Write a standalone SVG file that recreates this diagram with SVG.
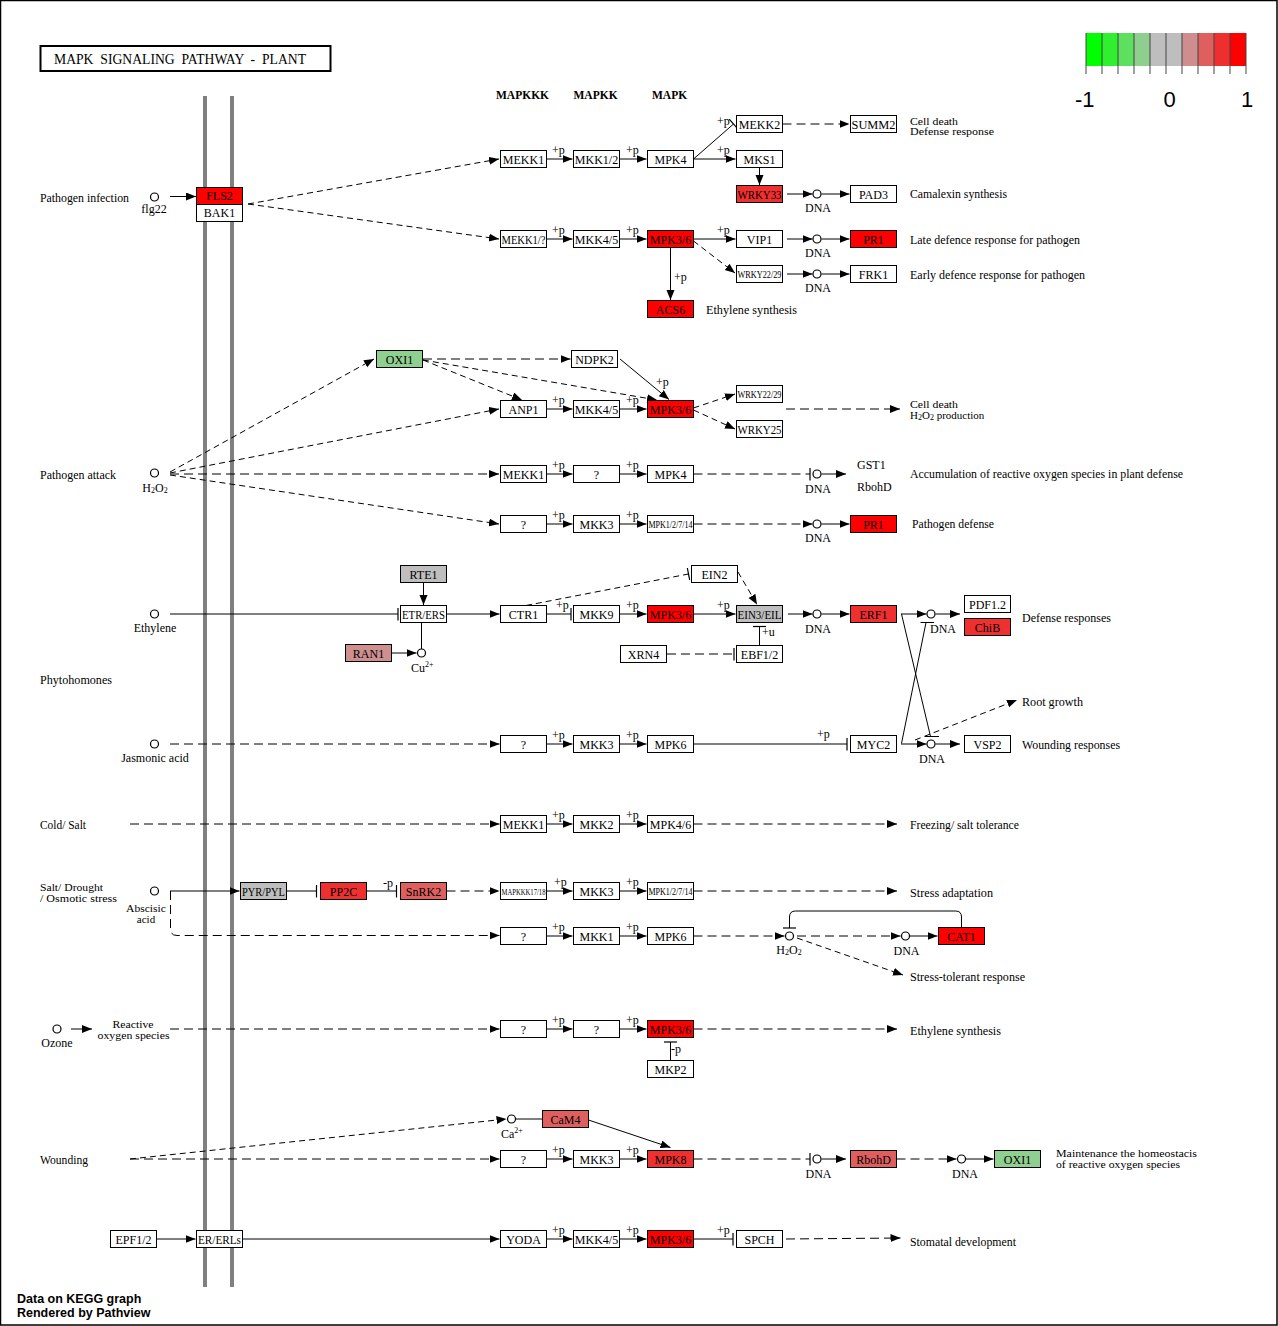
<svg xmlns="http://www.w3.org/2000/svg" width="1278" height="1326" viewBox="0 0 1278 1326">
<defs>
<style>
.t{font-family:"Liberation Serif","Times New Roman",serif;font-size:12px;fill:#000}
.s{font-size:11px}
.n{font-size:10px}
.m{text-anchor:middle}
.hb{font-family:"Liberation Serif","Times New Roman",serif;font-size:11.5px;font-weight:bold;fill:#000}
.bx{fill:#fff;stroke:#000;stroke-width:1}
.r{fill:#FF0000}.r2{fill:#EF3030}.r3{fill:#DF5F5F}.r4{fill:#CE8F8F}.g{fill:#BEBEBE}.gr{fill:#8FCF8F}
.c{fill:#fff;stroke:#000;stroke-width:1.2}
.l{stroke:#000;stroke-width:1;fill:none}
.d{stroke-dasharray:9 5}
.d2{stroke-dasharray:6 4}
.ar{marker-end:url(#a)}
.ib{marker-end:url(#i)}
.sub{font-size:8px}
.lg{font-family:"Liberation Sans",Arial,sans-serif;font-size:22px;fill:#000}
.ft{font-family:"Liberation Sans",Arial,sans-serif;font-size:12.5px;font-weight:bold;fill:#000}
</style>
<marker id="a" markerUnits="userSpaceOnUse" markerWidth="11" markerHeight="9" refX="10" refY="4" orient="auto"><path d="M0,0 L10,4 L0,8 z" fill="#000"/></marker>
<marker id="i" markerUnits="userSpaceOnUse" markerWidth="3" markerHeight="13" refX="1.5" refY="6.5" orient="auto"><path d="M1.5,0 L1.5,13" stroke="#000" stroke-width="1.2"/></marker>
</defs>
<rect x="0" y="0" width="1278" height="1326" fill="#fff"/>
<rect x="0.5" y="0.5" width="1276.5" height="1324.5" fill="none" stroke="#000" stroke-width="1.5"/>

<g id="title"><rect x="40.5" y="46" width="290" height="25" fill="#fff" stroke="#000" stroke-width="2"/><text class="t" x="54" y="64" style="font-size:14px;white-space:pre" xml:space="preserve" textLength="252" lengthAdjust="spacingAndGlyphs">MAPK  SIGNALING  PATHWAY  -  PLANT</text></g>

<g id="legend">
<rect x="1086" y="33" width="16" height="33" fill="#00FF00"/>
<rect x="1102" y="33" width="16" height="33" fill="#2FEF2F"/>
<rect x="1118" y="33" width="16" height="33" fill="#5FDF5F"/>
<rect x="1134" y="33" width="16" height="33" fill="#8ECE8E"/>
<rect x="1150" y="33" width="16" height="33" fill="#BEBEBE"/>
<rect x="1166" y="33" width="16" height="33" fill="#BEBEBE"/>
<rect x="1182" y="33" width="16" height="33" fill="#CE8E8E"/>
<rect x="1198" y="33" width="16" height="33" fill="#DF5F5F"/>
<rect x="1214" y="33" width="16" height="33" fill="#EF2F2F"/>
<rect x="1230" y="33" width="16" height="33" fill="#FF0000"/>
<path d="M1086,33V74M1102,33V74M1118,33V74M1134,33V74M1150,33V74M1166,33V74M1182,33V74M1198,33V74M1214,33V74M1230,33V74M1246,33V74" stroke="#444" stroke-width="1"/>
<text class="lg" x="1075" y="107">-1</text>
<text class="lg m" x="1169.5" y="107">0</text>
<text class="lg" x="1241" y="107">1</text>
</g>

<g id="membrane"><rect x="203" y="96" width="4" height="1191" fill="#808080"/><rect x="230" y="96" width="4" height="1191" fill="#808080"/></g>

<g id="headers"><text class="hb" x="496" y="99">MAPKKK</text><text class="hb" x="573.5" y="99">MAPKK</text><text class="hb" x="652" y="99">MAPK</text></g>

<g id="connectors">
<path class="l ar" d="M170,196.5 L196,196.5"/>
<path class="l d2 ar" d="M248,204 L499,159"/>
<path class="l d2 ar" d="M248,204 L499,239"/>
<path class="l ar" d="M546.5,159 L572.5,159"/>
<path class="l ar" d="M619.5,159 L646.5,159"/>
<path class="l ar" d="M693.5,159 L735.5,159"/>
<path class="l ib" d="M693.5,159 L733.5,124"/>
<path class="l ar" d="M759.5,167.5 L759.5,185"/>
<path class="l d ar" d="M782.5,124 L849.5,124"/>
<path class="l ar" d="M787,194 L812.5,194"/>
<path class="l ar" d="M821.5,194 L849.5,194"/>
<path class="l ar" d="M546.5,239 L572.5,239"/>
<path class="l ar" d="M619.5,239 L646.5,239"/>
<path class="l ar" d="M693.5,239 L735.5,239"/>
<path class="l d2 ar" d="M693.5,241 L735,273"/>
<path class="l ar" d="M670.5,247.5 L670.5,300"/>
<path class="l ar" d="M787,239 L812.5,239"/>
<path class="l ar" d="M821.5,239 L849.5,239"/>
<path class="l ar" d="M787,274 L812.5,274"/>
<path class="l ar" d="M821.5,274 L849.5,274"/>
<path class="l d2 ar" d="M170,472 L374,359"/>
<path class="l d2 ar" d="M170,473 L499,409"/>
<path class="l d ar" d="M170,474 L499,474"/>
<path class="l d2 ar" d="M170,475 L499,524"/>
<path class="l d ar" d="M423,359 L570.5,359"/>
<path class="l d2 ar" d="M423,360 L522,400"/>
<path class="l d2 ar" d="M423,360 L657,400"/>
<path class="l ar" d="M620,359 L669,399.5"/>
<path class="l ar" d="M546.5,409 L572.5,409"/>
<path class="l ar" d="M619.5,409 L646.5,409"/>
<path class="l d2 ar" d="M693.5,408 L735,394"/>
<path class="l d2 ar" d="M693.5,410 L735,429"/>
<path class="l d ar" d="M786,409 L900,409"/>
<path class="l ar" d="M546.5,474 L572.5,474"/>
<path class="l ar" d="M619.5,474 L646.5,474"/>
<path class="l d ib" d="M693.5,474 L810,474"/>
<path class="l ar" d="M821.5,474 L846,474"/>
<path class="l ar" d="M546.5,524 L572.5,524"/>
<path class="l ar" d="M619.5,524 L646.5,524"/>
<path class="l d ar" d="M693.5,524 L812.5,524"/>
<path class="l ar" d="M821.5,524 L849.5,524"/>
<path class="l ib" d="M170,614 L398,614"/>
<path class="l ar" d="M423.5,582.5 L423.5,605"/>
<path class="l" d="M421.5,622.5 L421.5,649"/>
<path class="l ar" d="M392,653 L416.5,653"/>
<path class="l ar" d="M446.5,614 L499.5,614"/>
<path class="l ib" d="M546.5,614 L571,614"/>
<path class="l ar" d="M619.5,614 L646.5,614"/>
<path class="l ar" d="M693.5,614 L735.5,614"/>
<path class="l d2 ib" d="M526,605.5 L688.5,574"/>
<path class="l d2 ar" d="M738,572 L757,604.5"/>
<path class="l d ib" d="M667,654 L734,654"/>
<path class="l ib" d="M759.5,645.5 L759.5,626.5"/>
<path class="l ar" d="M788,614 L812.5,614"/>
<path class="l ar" d="M821.5,614 L849.5,614"/>
<path class="l ar" d="M901,614 L926.5,614"/>
<path class="l ar" d="M935.5,614 L960,614"/>
<path class="l" d="M901.5,614 L930.5,736.5 M925,736.5 L939,736.5"/>
<path class="l" d="M901.5,743.5 L926,622.5 M920.5,622.5 L934,622.5"/>
<path class="l d ar" d="M170,744 L499.5,744"/>
<path class="l ar" d="M546.5,744 L572.5,744"/>
<path class="l ar" d="M619.5,744 L646.5,744"/>
<path class="l ib" d="M693.5,744 L847,744"/>
<path class="l ar" d="M901,744 L926.5,744"/>
<path class="l ar" d="M935.5,744 L960,744"/>
<path class="l d2 ar" d="M915,740 L1017,700"/>
<path class="l d ar" d="M130,824 L499.5,824"/>
<path class="l ar" d="M546.5,824 L572.5,824"/>
<path class="l ar" d="M619.5,824 L646.5,824"/>
<path class="l d ar" d="M693.5,824 L897,824"/>
<path class="l ar" d="M170,891 L239.5,891"/>
<path class="l d ar" d="M170.5,891 L170.5,929 Q170.5,935.5 177,935.5 L499.5,935.5"/>
<path class="l ib" d="M287,891 L316.5,891"/>
<path class="l ib" d="M367,891 L396.5,891"/>
<path class="l d ar" d="M446.5,891 L499.5,891"/>
<path class="l ar" d="M546.5,891 L572.5,891"/>
<path class="l ar" d="M619.5,891 L646.5,891"/>
<path class="l d ar" d="M693.5,891 L897,891"/>
<path class="l ar" d="M546.5,936 L572.5,936"/>
<path class="l ar" d="M619.5,936 L646.5,936"/>
<path class="l d ar" d="M693.5,936 L784.5,936"/>
<path class="l ib" d="M961.5,927.5 L961.5,917 Q961.5,911 955.5,911 L795.5,911 Q789.5,911 789.5,917 L789.5,928"/>
<path class="l d ar" d="M797,936 L900.5,936"/>
<path class="l ar" d="M910,936 L937.5,936"/>
<path class="l d2 ar" d="M797,938 L903,975"/>
<path class="l ar" d="M71,1029 L92,1029"/>
<path class="l d ar" d="M170,1029 L499.5,1029"/>
<path class="l ar" d="M546.5,1029 L572.5,1029"/>
<path class="l ar" d="M619.5,1029 L646.5,1029"/>
<path class="l ib" d="M670.5,1060.5 L670.5,1042"/>
<path class="l d ar" d="M693.5,1029 L897,1029"/>
<path class="l d ar" d="M130,1159 L499.5,1159"/>
<path class="l d2 ar" d="M130,1159 L506.5,1119"/>
<path class="l" d="M516,1119 L542.5,1119"/>
<path class="l ar" d="M588.5,1120 L670.5,1147.5"/>
<path class="l ar" d="M546.5,1159 L572.5,1159"/>
<path class="l ar" d="M619.5,1159 L646.5,1159"/>
<path class="l d ib" d="M693.5,1159 L810,1159"/>
<path class="l ar" d="M821.5,1159 L846,1159"/>
<path class="l d ar" d="M896.5,1159 L956.5,1159"/>
<path class="l ar" d="M966,1159 L993.5,1159"/>
<path class="l ar" d="M157,1239 L195.5,1239"/>
<path class="l ar" d="M242.5,1239 L499.5,1239"/>
<path class="l ar" d="M546.5,1239 L572.5,1239"/>
<path class="l ar" d="M619.5,1239 L646.5,1239"/>
<path class="l ib" d="M693.5,1239 L733,1239"/>
<path class="l d ar" d="M786,1239 L900.5,1238"/>
</g>

<g id="edge-labels" class="t">
<text x="552" y="154">+p</text><text x="626" y="154">+p</text><text x="717" y="154">+p</text><text x="717" y="125">+p</text>
<text x="552" y="234">+p</text><text x="626" y="234">+p</text><text x="717" y="234">+p</text><text x="674" y="281">+p</text>
<text x="656" y="386">+p</text><text x="552" y="404">+p</text><text x="626" y="404">+p</text>
<text x="552" y="469">+p</text><text x="626" y="469">+p</text>
<text x="552" y="519">+p</text><text x="626" y="519">+p</text>
<text x="556" y="609">+p</text><text x="626" y="609">+p</text><text x="717" y="609">+p</text>
<text x="762" y="636">+u</text>
<text x="552" y="739">+p</text><text x="626" y="739">+p</text><text x="817" y="738">+p</text>
<text x="552" y="819">+p</text><text x="626" y="819">+p</text>
<text x="383" y="887">-p</text>
<text x="554" y="886">+p</text><text x="626" y="886">+p</text>
<text x="552" y="931">+p</text><text x="626" y="931">+p</text>
<text x="552" y="1024">+p</text><text x="626" y="1024">+p</text><text x="671" y="1053">-p</text>
<text x="552" y="1154">+p</text><text x="626" y="1154">+p</text>
<text x="552" y="1234">+p</text><text x="626" y="1234">+p</text><text x="717" y="1234">+p</text>
</g>

<g id="compounds">
<circle class="c" cx="154.5" cy="197" r="4"/>
<circle class="c" cx="154.5" cy="473" r="4"/>
<circle class="c" cx="154.5" cy="614" r="4"/>
<circle class="c" cx="154.5" cy="744" r="4"/>
<circle class="c" cx="154.5" cy="891" r="4"/>
<circle class="c" cx="57" cy="1029" r="4"/>
<circle class="c" cx="421.5" cy="653" r="4"/>
<circle class="c" cx="511.5" cy="1119" r="4"/>
<circle class="c" cx="789.5" cy="936" r="4"/>
<circle class="c" cx="817" cy="194" r="4"/>
<circle class="c" cx="817" cy="239" r="4"/>
<circle class="c" cx="817" cy="274" r="4"/>
<circle class="c" cx="817" cy="474" r="4"/>
<circle class="c" cx="817" cy="524" r="4"/>
<circle class="c" cx="817" cy="614" r="4"/>
<circle class="c" cx="931" cy="614" r="4"/>
<circle class="c" cx="931" cy="744" r="4"/>
<circle class="c" cx="905.5" cy="936" r="4"/>
<circle class="c" cx="817" cy="1159" r="4"/>
<circle class="c" cx="961.5" cy="1159" r="4"/>
</g>

<g id="compound-labels" class="t">
<text class="m" x="154" y="213">flg22</text>
<text class="m" x="155" y="492">H<tspan class="sub" dy="1">2</tspan><tspan dy="-1">O</tspan><tspan class="sub" dy="1">2</tspan></text>
<text class="m" x="155" y="632">Ethylene</text>
<text class="m" x="155" y="762">Jasmonic acid</text>
<text class="m s" x="146" y="911.5" textLength="40" lengthAdjust="spacingAndGlyphs">Abscisic</text>
<text class="m s" x="146" y="922.5">acid</text>
<text class="m" x="57" y="1047">Ozone</text>
<text class="m s" x="133" y="1027.5" textLength="41" lengthAdjust="spacingAndGlyphs">Reactive</text>
<text class="m s" x="133.5" y="1038.5" textLength="72" lengthAdjust="spacingAndGlyphs">oxygen species</text>
<text x="411" y="672">Cu<tspan class="sub" dy="-5">2+</tspan></text>
<text x="501" y="1137.5">Ca<tspan class="sub" dy="-5">2+</tspan></text>
<text class="m" x="789" y="954">H<tspan class="sub" dy="1">2</tspan><tspan dy="-1">O</tspan><tspan class="sub" dy="1">2</tspan></text>
<text class="m" x="818" y="211.5">DNA</text>
<text class="m" x="818" y="257">DNA</text>
<text class="m" x="818" y="292">DNA</text>
<text class="m" x="818" y="492.5">DNA</text>
<text class="m" x="818" y="542">DNA</text>
<text class="m" x="818" y="632.5">DNA</text>
<text x="930" y="632.5">DNA</text>
<text class="m" x="932" y="762.5">DNA</text>
<text class="m" x="906.5" y="955">DNA</text>
<text class="m" x="818.5" y="1178">DNA</text>
<text class="m" x="965" y="1177.5">DNA</text>
<text x="857" y="469">GST1</text>
<text x="857" y="491">RbohD</text>
</g>

<g id="descriptions" class="t">
<text x="40" y="202" textLength="89" lengthAdjust="spacingAndGlyphs">Pathogen infection</text>
<text x="40" y="478.5" textLength="76" lengthAdjust="spacingAndGlyphs">Pathogen attack</text>
<text x="40" y="684" textLength="72" lengthAdjust="spacingAndGlyphs">Phytohomones</text>
<text x="40" y="829" textLength="46" lengthAdjust="spacingAndGlyphs">Cold/ Salt</text>
<text class="s" x="40" y="891" textLength="63" lengthAdjust="spacingAndGlyphs">Salt/ Drought</text>
<text class="s" x="40" y="902" textLength="77" lengthAdjust="spacingAndGlyphs">/ Osmotic stress</text>
<text x="40" y="1163.5" textLength="48" lengthAdjust="spacingAndGlyphs">Wounding</text>
<text class="s" x="910" y="124.5" textLength="48" lengthAdjust="spacingAndGlyphs">Cell death</text>
<text class="s" x="910" y="135" textLength="84" lengthAdjust="spacingAndGlyphs">Defense response</text>
<text x="910" y="198" textLength="97" lengthAdjust="spacingAndGlyphs">Camalexin synthesis</text>
<text x="910" y="243.5" textLength="170" lengthAdjust="spacingAndGlyphs">Late defence response for pathogen</text>
<text x="910" y="278.5" textLength="175" lengthAdjust="spacingAndGlyphs">Early defence response for pathogen</text>
<text x="706" y="313.5" textLength="91" lengthAdjust="spacingAndGlyphs">Ethylene synthesis</text>
<text class="s" x="910" y="408" textLength="48" lengthAdjust="spacingAndGlyphs">Cell death</text>
<text class="s" x="910" y="419">H<tspan class="sub" dy="1">2</tspan><tspan dy="-1">O</tspan><tspan class="sub" dy="1">2</tspan><tspan dy="-1"> production</tspan></text>
<text x="910" y="478" textLength="273" lengthAdjust="spacingAndGlyphs">Accumulation of reactive oxygen species in plant defense</text>
<text x="912" y="528" textLength="82" lengthAdjust="spacingAndGlyphs">Pathogen defense</text>
<text x="1022" y="621.5" textLength="89" lengthAdjust="spacingAndGlyphs">Defense responses</text>
<text x="1022" y="705.5" textLength="61" lengthAdjust="spacingAndGlyphs">Root growth</text>
<text x="1022" y="748.5" textLength="98" lengthAdjust="spacingAndGlyphs">Wounding responses</text>
<text x="910" y="829" textLength="109" lengthAdjust="spacingAndGlyphs">Freezing/ salt tolerance</text>
<text x="910" y="896.5" textLength="83" lengthAdjust="spacingAndGlyphs">Stress adaptation</text>
<text x="910" y="980.5" textLength="115" lengthAdjust="spacingAndGlyphs">Stress-tolerant response</text>
<text x="910" y="1034.5" textLength="91" lengthAdjust="spacingAndGlyphs">Ethylene synthesis</text>
<text class="s" x="1056" y="1157" textLength="141" lengthAdjust="spacingAndGlyphs">Maintenance the homeostacis</text>
<text class="s" x="1056" y="1168" textLength="124" lengthAdjust="spacingAndGlyphs">of reactive oxygen species</text>
<text x="910" y="1245.5" textLength="106" lengthAdjust="spacingAndGlyphs">Stomatal development</text>
</g>

<g id="nodes" class="t">
<g id="FLS2"><rect class="bx r" x="196.5" y="187.5" width="46" height="17"/><text class="m" x="219.5" y="200">FLS2</text></g>
<g id="BAK1"><rect class="bx" x="196.5" y="204.5" width="46" height="17"/><text class="m" x="219.5" y="217">BAK1</text></g>
<g id="MEKK1_a"><rect class="bx" x="500.5" y="150.5" width="46" height="17"/><text class="m" x="523.5" y="163.5">MEKK1</text></g>
<g id="MKK12_a"><rect class="bx" x="573.5" y="150.5" width="46" height="17"/><text class="m" x="596.5" y="163.5">MKK1/2</text></g>
<g id="MPK4_a"><rect class="bx" x="647.5" y="150.5" width="46" height="17"/><text class="m" x="670.5" y="163.5">MPK4</text></g>
<g id="MEKK2"><rect class="bx" x="736.5" y="115.5" width="46" height="17"/><text class="m" x="759.5" y="128.5">MEKK2</text></g>
<g id="MKS1"><rect class="bx" x="736.5" y="150.5" width="46" height="17"/><text class="m" x="759.5" y="163.5">MKS1</text></g>
<g id="WRKY33"><rect class="bx r2" x="736.5" y="185.5" width="46" height="17"/><text class="m" x="759.5" y="198.5" textLength="44" lengthAdjust="spacingAndGlyphs">WRKY33</text></g>
<g id="SUMM2"><rect class="bx" x="850.5" y="115.5" width="46" height="17"/><text class="m" x="873.5" y="128.5" textLength="44" lengthAdjust="spacingAndGlyphs">SUMM2</text></g>
<g id="PAD3"><rect class="bx" x="850.5" y="185.5" width="46" height="17"/><text class="m" x="873.5" y="198.5">PAD3</text></g>
<g id="MEKK1q"><rect class="bx" x="500.5" y="230.5" width="46" height="17"/><text class="m" x="523.5" y="243.5" textLength="44" lengthAdjust="spacingAndGlyphs">MEKK1/?</text></g>
<g id="MKK45_a"><rect class="bx" x="573.5" y="230.5" width="46" height="17"/><text class="m" x="596.5" y="243.5">MKK4/5</text></g>
<g id="MPK36_a"><rect class="bx r" x="647.5" y="230.5" width="46" height="17"/><text class="m" x="670.5" y="243.5">MPK3/6</text></g>
<g id="VIP1"><rect class="bx" x="736.5" y="230.5" width="46" height="17"/><text class="m" x="759.5" y="243.5">VIP1</text></g>
<g id="PR1_a"><rect class="bx r" x="850.5" y="230.5" width="46" height="17"/><text class="m" x="873.5" y="243.5">PR1</text></g>
<g id="WRKY2229_a"><rect class="bx" x="736.5" y="265.5" width="46" height="17"/><text class="m n" x="759.5" y="278" textLength="44" lengthAdjust="spacingAndGlyphs">WRKY22/29</text></g>
<g id="FRK1"><rect class="bx" x="850.5" y="265.5" width="46" height="17"/><text class="m" x="873.5" y="278.5">FRK1</text></g>
<g id="ACS6"><rect class="bx r" x="647.5" y="300.5" width="46" height="17"/><text class="m" x="670.5" y="313.5">ACS6</text></g>

<g id="OXI1_a"><rect class="bx gr" x="376.5" y="350.5" width="46" height="17"/><text class="m" x="399.5" y="363.5">OXI1</text></g>
<g id="NDPK2"><rect class="bx" x="571.5" y="350.5" width="46" height="17"/><text class="m" x="594.5" y="363.5">NDPK2</text></g>
<g id="ANP1"><rect class="bx" x="500.5" y="400.5" width="46" height="17"/><text class="m" x="523.5" y="413.5">ANP1</text></g>
<g id="MKK45_b"><rect class="bx" x="573.5" y="400.5" width="46" height="17"/><text class="m" x="596.5" y="413.5">MKK4/5</text></g>
<g id="MPK36_b"><rect class="bx r" x="647.5" y="400.5" width="46" height="17"/><text class="m" x="670.5" y="413.5">MPK3/6</text></g>
<g id="WRKY2229_b"><rect class="bx" x="736.5" y="385.5" width="46" height="17"/><text class="m n" x="759.5" y="398" textLength="44" lengthAdjust="spacingAndGlyphs">WRKY22/29</text></g>
<g id="WRKY25"><rect class="bx" x="736.5" y="420.5" width="46" height="17"/><text class="m" x="759.5" y="433.5" textLength="44" lengthAdjust="spacingAndGlyphs">WRKY25</text></g>
<g id="MEKK1_b"><rect class="bx" x="500.5" y="465.5" width="46" height="17"/><text class="m" x="523.5" y="478.5">MEKK1</text></g>
<g id="Q_a"><rect class="bx" x="573.5" y="465.5" width="46" height="17"/><text class="m" x="596.5" y="478.5">?</text></g>
<g id="MPK4_b"><rect class="bx" x="647.5" y="465.5" width="46" height="17"/><text class="m" x="670.5" y="478.5">MPK4</text></g>
<g id="Q_b"><rect class="bx" x="500.5" y="515.5" width="46" height="17"/><text class="m" x="523.5" y="528.5">?</text></g>
<g id="MKK3_a"><rect class="bx" x="573.5" y="515.5" width="46" height="17"/><text class="m" x="596.5" y="528.5">MKK3</text></g>
<g id="MPK12714_a"><rect class="bx" x="647.5" y="515.5" width="46" height="17"/><text class="m n" x="670.5" y="528" textLength="44" lengthAdjust="spacingAndGlyphs">MPK1/2/7/14</text></g>
<g id="PR1_b"><rect class="bx r" x="850.5" y="515.5" width="46" height="17"/><text class="m" x="873.5" y="528.5">PR1</text></g>

<g id="RTE1"><rect class="bx g" x="400.5" y="565.5" width="46" height="17"/><text class="m" x="423.5" y="578.5">RTE1</text></g>
<g id="ETRERS"><rect class="bx" x="400.5" y="605.5" width="46" height="17"/><text class="m" x="423.5" y="618.5" textLength="43" lengthAdjust="spacingAndGlyphs">ETR/ERS</text></g>
<g id="RAN1"><rect class="bx r4" x="345.5" y="644.5" width="46" height="17"/><text class="m" x="368.5" y="657.5">RAN1</text></g>
<g id="CTR1"><rect class="bx" x="500.5" y="605.5" width="46" height="17"/><text class="m" x="523.5" y="618.5">CTR1</text></g>
<g id="MKK9"><rect class="bx" x="573.5" y="605.5" width="46" height="17"/><text class="m" x="596.5" y="618.5">MKK9</text></g>
<g id="MPK36_c"><rect class="bx r" x="647.5" y="605.5" width="46" height="17"/><text class="m" x="670.5" y="618.5">MPK3/6</text></g>
<g id="EIN2"><rect class="bx" x="691.5" y="565.5" width="46" height="17"/><text class="m" x="714.5" y="578.5">EIN2</text></g>
<g id="EIN3EIL"><rect class="bx g" x="736.5" y="605.5" width="46" height="17"/><text class="m" x="759.5" y="618.5" textLength="44" lengthAdjust="spacingAndGlyphs">EIN3/EIL</text></g>
<g id="XRN4"><rect class="bx" x="620.5" y="645.5" width="46" height="17"/><text class="m" x="643.5" y="658.5">XRN4</text></g>
<g id="EBF12"><rect class="bx" x="736.5" y="645.5" width="46" height="17"/><text class="m" x="759.5" y="658.5">EBF1/2</text></g>
<g id="ERF1"><rect class="bx r2" x="850.5" y="605.5" width="46" height="17"/><text class="m" x="873.5" y="618.5">ERF1</text></g>
<g id="PDF12"><rect class="bx" x="964.5" y="595.5" width="46" height="17"/><text class="m" x="987.5" y="608.5">PDF1.2</text></g>
<g id="ChiB"><rect class="bx r2" x="964.5" y="618.5" width="46" height="17"/><text class="m" x="987.5" y="631.5">ChiB</text></g>

<g id="Q_c"><rect class="bx" x="500.5" y="735.5" width="46" height="17"/><text class="m" x="523.5" y="748.5">?</text></g>
<g id="MKK3_b"><rect class="bx" x="573.5" y="735.5" width="46" height="17"/><text class="m" x="596.5" y="748.5">MKK3</text></g>
<g id="MPK6_a"><rect class="bx" x="647.5" y="735.5" width="46" height="17"/><text class="m" x="670.5" y="748.5">MPK6</text></g>
<g id="MYC2"><rect class="bx" x="850.5" y="735.5" width="46" height="17"/><text class="m" x="873.5" y="748.5">MYC2</text></g>
<g id="VSP2"><rect class="bx" x="964.5" y="735.5" width="46" height="17"/><text class="m" x="987.5" y="748.5">VSP2</text></g>

<g id="MEKK1_c"><rect class="bx" x="500.5" y="815.5" width="46" height="17"/><text class="m" x="523.5" y="828.5">MEKK1</text></g>
<g id="MKK2"><rect class="bx" x="573.5" y="815.5" width="46" height="17"/><text class="m" x="596.5" y="828.5">MKK2</text></g>
<g id="MPK46"><rect class="bx" x="647.5" y="815.5" width="46" height="17"/><text class="m" x="670.5" y="828.5">MPK4/6</text></g>

<g id="PYRPYL"><rect class="bx g" x="240.5" y="882.5" width="46" height="17"/><text class="m" x="263.5" y="895.5" textLength="43" lengthAdjust="spacingAndGlyphs">PYR/PYL</text></g>
<g id="PP2C"><rect class="bx r2" x="320.5" y="882.5" width="46" height="17"/><text class="m" x="343.5" y="895.5">PP2C</text></g>
<g id="SnRK2"><rect class="bx r3" x="400.5" y="882.5" width="46" height="17"/><text class="m" x="423.5" y="895.5">SnRK2</text></g>
<g id="MAPKKK1718"><rect class="bx" x="500.5" y="882.5" width="46" height="17"/><text class="m" x="523.5" y="894.5" style="font-size:9px" textLength="44" lengthAdjust="spacingAndGlyphs">MAPKKK17/18</text></g>
<g id="MKK3_c"><rect class="bx" x="573.5" y="882.5" width="46" height="17"/><text class="m" x="596.5" y="895.5">MKK3</text></g>
<g id="MPK12714_b"><rect class="bx" x="647.5" y="882.5" width="46" height="17"/><text class="m n" x="670.5" y="895" textLength="44" lengthAdjust="spacingAndGlyphs">MPK1/2/7/14</text></g>
<g id="Q_d"><rect class="bx" x="500.5" y="927.5" width="46" height="17"/><text class="m" x="523.5" y="940.5">?</text></g>
<g id="MKK1"><rect class="bx" x="573.5" y="927.5" width="46" height="17"/><text class="m" x="596.5" y="940.5">MKK1</text></g>
<g id="MPK6_b"><rect class="bx" x="647.5" y="927.5" width="46" height="17"/><text class="m" x="670.5" y="940.5">MPK6</text></g>
<g id="CAT1"><rect class="bx r" x="938.5" y="927.5" width="46" height="17"/><text class="m" x="961.5" y="940.5">CAT1</text></g>

<g id="Q_e"><rect class="bx" x="500.5" y="1020.5" width="46" height="17"/><text class="m" x="523.5" y="1033.5">?</text></g>
<g id="Q_f"><rect class="bx" x="573.5" y="1020.5" width="46" height="17"/><text class="m" x="596.5" y="1033.5">?</text></g>
<g id="MPK36_d"><rect class="bx r" x="647.5" y="1020.5" width="46" height="17"/><text class="m" x="670.5" y="1033.5">MPK3/6</text></g>
<g id="MKP2"><rect class="bx" x="647.5" y="1060.5" width="46" height="17"/><text class="m" x="670.5" y="1073.5">MKP2</text></g>

<g id="CaM4"><rect class="bx r3" x="542.5" y="1110.5" width="46" height="17"/><text class="m" x="565.5" y="1123.5">CaM4</text></g>
<g id="Q_g"><rect class="bx" x="500.5" y="1150.5" width="46" height="17"/><text class="m" x="523.5" y="1163.5">?</text></g>
<g id="MKK3_d"><rect class="bx" x="573.5" y="1150.5" width="46" height="17"/><text class="m" x="596.5" y="1163.5">MKK3</text></g>
<g id="MPK8"><rect class="bx r2" x="647.5" y="1150.5" width="46" height="17"/><text class="m" x="670.5" y="1163.5">MPK8</text></g>
<g id="RbohD"><rect class="bx r3" x="850.5" y="1150.5" width="46" height="17"/><text class="m" x="873.5" y="1163.5">RbohD</text></g>
<g id="OXI1_b"><rect class="bx gr" x="994.5" y="1150.5" width="46" height="17"/><text class="m" x="1017.5" y="1163.5">OXI1</text></g>

<g id="EPF12"><rect class="bx" x="110.5" y="1230.5" width="46" height="17"/><text class="m" x="133.5" y="1243.5">EPF1/2</text></g>
<g id="ERERLs"><rect class="bx" x="196.5" y="1230.5" width="46" height="17"/><text class="m" x="219.5" y="1243.5" textLength="43" lengthAdjust="spacingAndGlyphs">ER/ERLs</text></g>
<g id="YODA"><rect class="bx" x="500.5" y="1230.5" width="46" height="17"/><text class="m" x="523.5" y="1243.5">YODA</text></g>
<g id="MKK45_c"><rect class="bx" x="573.5" y="1230.5" width="46" height="17"/><text class="m" x="596.5" y="1243.5">MKK4/5</text></g>
<g id="MPK36_e"><rect class="bx r" x="647.5" y="1230.5" width="46" height="17"/><text class="m" x="670.5" y="1243.5">MPK3/6</text></g>
<g id="SPCH"><rect class="bx" x="736.5" y="1230.5" width="46" height="17"/><text class="m" x="759.5" y="1243.5">SPCH</text></g>
</g>

<g id="footer"><text class="ft" x="17" y="1303">Data on KEGG graph</text><text class="ft" x="17" y="1317">Rendered by Pathview</text></g>
</svg>
